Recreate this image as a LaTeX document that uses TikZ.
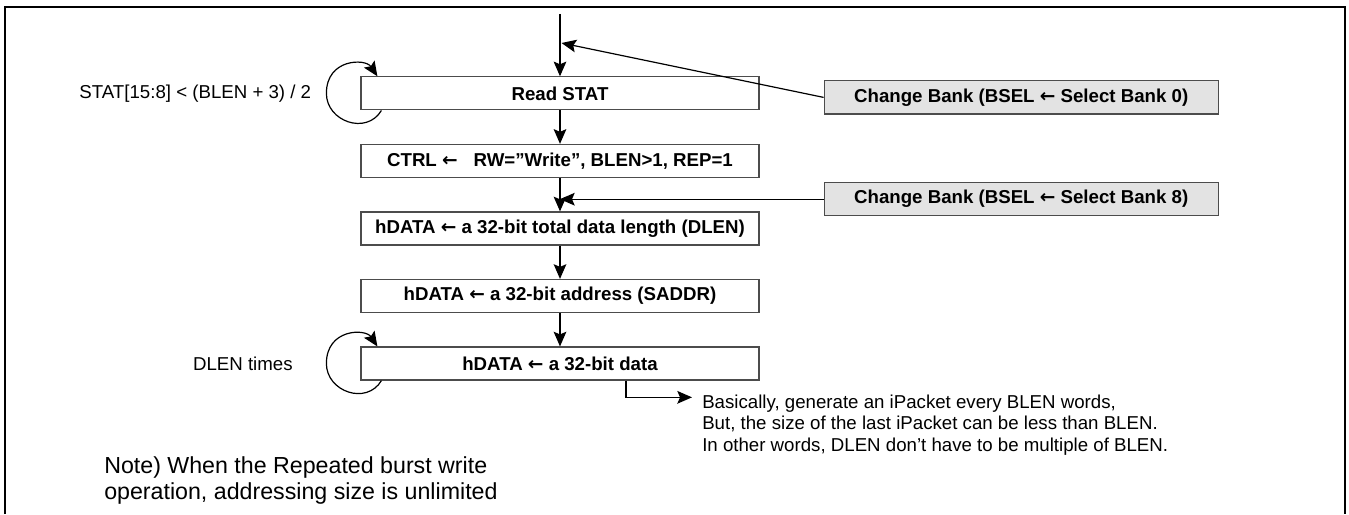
\documentclass[tikz,border=0pt]{standalone}
\usepackage{fontspec}
\setmainfont{Liberation Sans}
\newfontfamily\arrowfont{DejaVu Sans}
\usetikzlibrary{arrows.meta,positioning,calc}
\newcommand{\assign}{{\arrowfont ←}}

\begin{document}
\begin{tikzpicture}[x=0.75pt,y=0.75pt,node distance=25pt,>={Stealth[length=11pt,width=9.5pt,inset=2pt]},
box/.style={draw=black!70,line width=0.9pt,minimum width=298.5pt,minimum height=24.75pt,inner sep=0pt,font=\fontsize{14}{16}\selectfont\bfseries},
bank/.style={box,fill=black!11,minimum width=295.5pt,minimum height=25pt},
lbl/.style={inner sep=0pt,font=\fontsize{14}{16.3}\selectfont,align=left},
line/.style={line width=0.9pt}]
\useasboundingbox (0,0) rectangle (1349,514);
\draw[line width=2pt] (5,0) |- (1345,507) -- (1345,0);
% main flow
\node[box] (stat) at (560,420.6) {Read STAT};
\node[box,below=of stat] (ctrl) {CTRL \assign\hspace{12pt}RW=”Write”, BLEN>1, REP=1};
\node[box,below=of ctrl] (total) {hDATA \assign{} a 32-bit total data length (DLEN)};
\node[box,below=of total] (addr) {hDATA \assign{} a 32-bit address (SADDR)};
\node[box,below=of addr] (data) {hDATA \assign{} a 32-bit data};
% bank changes
\node[bank,right=48pt of stat,yshift=-3pt] (bank0) {Change Bank (BSEL \assign{} Select Bank 0)};
\node[bank,right=48pt of ctrl,yshift=-28.7pt] (bank8) {Change Bank (BSEL \assign{} Select Bank 8)};
\coordinate (in) at (560,500);
\coordinate (j0) at (561.5,471);
\coordinate (j8) at (stat |- bank8.west);
\draw[line,->] (in) -- (stat);
\foreach \a/\b in {stat/ctrl,ctrl/total,total/addr,addr/data}
  \draw[line,->] (\a) -- (\b);
\draw[line,->] (bank0.west) -- (j0);
\draw[line,->] (bank8.west) -- (j8);
% loops
\foreach \n in {stat,data}
  \draw[line,->] ($(\n.south west)+(21,0)$) .. controls +(-15,-25) and +(0,-28) .. ($(\n.west)+(-34,0)$) .. controls +(0,35) and +(-12,18) .. ($(\n.north west)+(17,0)$);
\node[lbl,left=36.75pt of stat] (wait) {STAT[15:8] < (BLEN + 3) / 2};
\node[lbl,left=50.6pt of data] (times) {DLEN times};
% iPacket note
\coordinate (split) at ($(data.south)+(132,-16.7)$);
\draw[line,->] ($(data.south)+(66,0)$) |- (split);
\node[lbl,anchor=north west,font=\fontsize{14}{16.3}\selectfont] (burst) at ($(split)+(10,3)$) {Basically, generate an iPacket every BLEN words,\\But, the size of the last iPacket can be less than BLEN.\\In other words, DLEN don’t have to be multiple of BLEN.};
\node[lbl,anchor=north west,font=\fontsize{17.4}{19.5}\selectfont] (note) at (104,58) {Note) When the Repeated burst write\\operation, addressing size is unlimited};
\end{tikzpicture}
\end{document}
